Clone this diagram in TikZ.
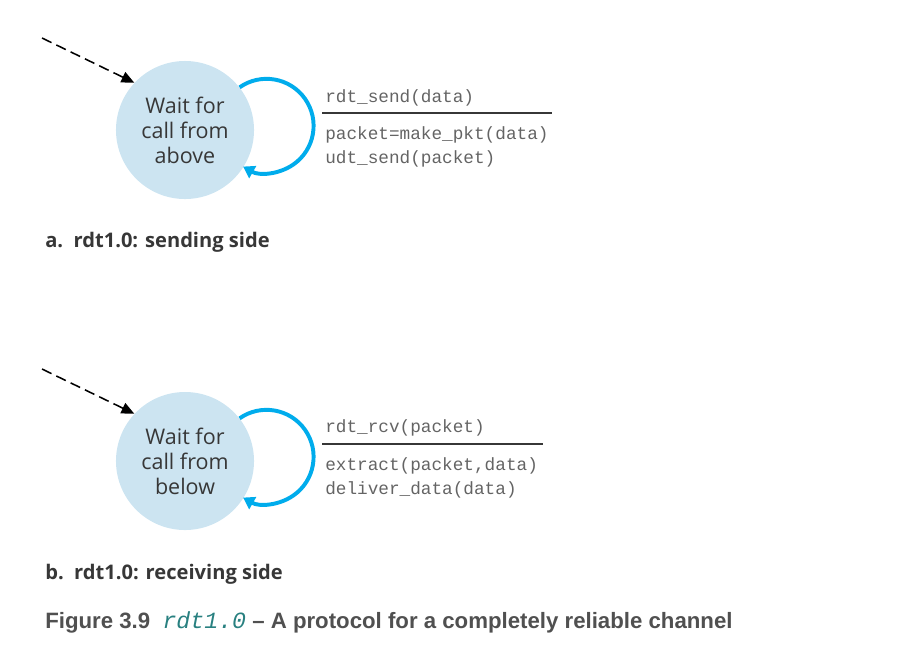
\documentclass[tikz,border=0pt]{standalone}
\usepackage{fontspec}
\setmainfont{Open Sans}
\setmonofont{Liberation Mono}
\newfontfamily\capfont{Liberation Sans}
\usetikzlibrary{arrows.meta, positioning}
\definecolor{statefill}{RGB}{204,228,241}
\definecolor{loopblue}{RGB}{0,172,236}
\definecolor{textgray}{RGB}{55,55,55}
\definecolor{codegray}{RGB}{100,100,100}
\definecolor{capgray}{RGB}{80,80,80}
\definecolor{capteal}{RGB}{40,128,128}

\begin{document}
\begin{tikzpicture}[x=0.025cm, y=0.025cm,
    state/.style={circle, fill=statefill, minimum size=3.45cm, inner sep=0pt, align=center, text=textgray, font=\fontsize{15.3}{17.7}\selectfont},
    selfloop/.style={draw=loopblue, line width=2.8pt, -{Triangle[length=0.28cm, width=0.34cm]}},
    initarrow/.style={line width=1.1pt, dash pattern=on 7.5pt off 3.8pt, -{Triangle[length=0.32cm, width=0.28cm]}},
    code/.style={anchor=base west, inner sep=0pt, text=codegray, font=\ttfamily\fontsize{12.6}{15}\selectfont},
    rulebar/.style={draw=textgray, line width=0.9pt},
    sublabel/.style={anchor=base west, inner sep=0pt, text=textgray, font=\bfseries\fontsize{14.3}{17}\selectfont}]
    \useasboundingbox (0,0) rectangle (906,-667);

    % a. sending side
    \node[state] (waitA) at (185,-130) {Wait for\\call from\\above};
    \coordinate (initA) at (42,-38);
    \draw[initarrow] (initA) -- (waitA.137);
    \draw[selfloop] (waitA.38) arc[start angle=125, end angle=-120, radius=1.175cm];
    \node[code] (eventA) at (325,-102) {rdt\_send(data)};
    \coordinate (ruleA) at (322,-113);
    \draw[rulebar] (ruleA) -- ++(230,0);
    \node[code] (actA1) at (325,-139) {packet=make\_pkt(data)};
    \node[code] (actA2) at (325,-163) {udt\_send(packet)};
    \node[sublabel] (labelA) at (45,-247) {a.\ \ rdt1.0: sending side};

    % b. receiving side
    \node[state] (waitB) at (185,-461) {Wait for\\call from\\below};
    \coordinate (initB) at (42,-369);
    \draw[initarrow] (initB) -- (waitB.137);
    \draw[selfloop] (waitB.38) arc[start angle=125, end angle=-120, radius=1.175cm];
    \node[code] (eventB) at (325,-432) {rdt\_rcv(packet)};
    \coordinate (ruleB) at (322,-444);
    \draw[rulebar] (ruleB) -- ++(221,0);
    \node[code] (actB1) at (325,-470) {extract(packet,data)};
    \node[code] (actB2) at (325,-494) {deliver\_data(data)};
    \node[sublabel] (labelB) at (45,-579) {b.\ \ rdt1.0: receiving side};

    % caption
    \node[anchor=base west, inner sep=0pt, text=capgray, font=\capfont\bfseries\fontsize{15.8}{18}\selectfont] (caption) at (45,-628)
        {Figure 3.9\ \ {\color{capteal}\mdseries\ttfamily\itshape\fontsize{16.5}{18}\selectfont rdt1.0} – A protocol for a completely reliable channel};
\end{tikzpicture}
\end{document}
